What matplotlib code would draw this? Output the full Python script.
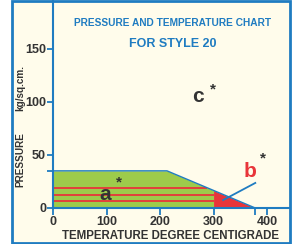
import numpy as np
import matplotlib
matplotlib.use("Agg")
import matplotlib.pyplot as plt
from matplotlib.patches import Rectangle
from matplotlib.ticker import FixedLocator

FONT = ['Liberation Sans', 'DejaVu Sans']

# ---- data ----
title1 = "PRESSURE AND TEMPERATURE CHART"
title2 = "FOR STYLE 20"
xlabel = "TEMPERATURE DEGREE CENTIGRADE"
ylabel1 = "PRESSURE"
ylabel2 = "kg/sq.cm."
xticks = [0, 100, 200, 300, 400]
yticks = [0, 50, 100, 150]
env_temp = [0, 213, 378]          # envelope of the operating region
env_press = [35, 35, 0]
red_limit = 300                    # temperature where red zone begins
red_levels = [6.5, 12.5, 19]       # red lines inside green zone
leader_t = [318, 378]
leader_p = [7.5, 23.6]
labels = ["a", "b", "c"]
label_t = [97, 368, 271]
label_p = [13, 34, 105]
star_t = [123, 393, 298]
star_p = [24, 47, 112]

BLUE = "#1f7cc1"
GREEN = "#9dcb4b"
RED = "#e8353a"
CREAM = "#fffceb"
DARK = "#333333"

fig = plt.figure(figsize=(2.97, 2.44), dpi=100)
fig.patch.set_facecolor("white")
W, H = 297, 244
fig.patches.append(Rectangle((12 / W, 1 / H), (290 - 12) / W, (243 - 1) / H,
                             transform=fig.transFigure, facecolor=CREAM,
                             edgecolor=BLUE, linewidth=2.0, zorder=-5))

ax = fig.add_axes([53 / W, (244 - 208) / H, (289 - 53) / W, (207) / H])
ax.set_zorder(2)
ax.set_facecolor("none")
ax.set_xlim(0, 441)
ax.set_ylim(0, 195)

# green region up to red_limit
tt = np.array(env_temp, dtype=float)
pp = np.array(env_press, dtype=float)
p_at_lim = np.interp(red_limit, tt, pp)
gx = np.concatenate([tt[tt < red_limit], [red_limit]])
gy = np.concatenate([pp[tt < red_limit], [p_at_lim]])
ax.fill_between(gx, 0, gy, color=GREEN, linewidth=0, zorder=1)
rx = np.concatenate([[red_limit], tt[tt > red_limit]])
ry = np.concatenate([[p_at_lim], pp[tt > red_limit]])
ax.fill_between(rx, 0, ry, color=RED, linewidth=0, zorder=1)

for lv in red_levels:
    xe = min(red_limit, np.interp(lv, pp[::-1], tt[::-1]))
    ax.plot([0, xe], [lv, lv], color=RED, lw=1.3, zorder=2, solid_capstyle="butt")

ax.plot(env_temp, env_press, color=BLUE, lw=1.0, zorder=3)
ax.plot(leader_t, leader_p, color=BLUE, lw=1.3, zorder=3)

for s in ["top", "right"]:
    ax.spines[s].set_visible(False)
for s in ["left", "bottom"]:
    ax.spines[s].set_color(BLUE)
    ax.spines[s].set_linewidth(1.5)

ax.set_xticks(xticks)
ax.set_yticks(yticks)
ax.xaxis.set_minor_locator(FixedLocator([env_temp[-1]]))
ax.yaxis.set_minor_locator(FixedLocator([env_press[0]]))
ax.tick_params(axis="x", which="both", length=5, width=1.3, color=BLUE, pad=1)
ax.tick_params(axis="y", which="both", length=4, width=1.3, color=BLUE, pad=1)
ax.set_xticklabels([str(v) for v in xticks], family=FONT, fontweight="bold",
                   fontsize=9, color=DARK)
ax.set_yticklabels([str(v) for v in yticks], family=FONT, fontweight="bold",
                   fontsize=9, color=DARK)

ax.set_xlabel(xlabel, family=FONT, fontweight="bold", fontsize=8.3,
              color=DARK, labelpad=1)

fig.text(20 / W, 1 - 160 / H, ylabel1, rotation=90, ha="center", va="center",
         family=FONT, fontweight="bold", fontsize=7.2, color=DARK)
fig.text(20 / W, 1 - 88 / H, ylabel2, rotation=90, ha="center", va="center",
         family=FONT, fontweight="bold", fontsize=7.2, color=DARK)

fig.text(173 / W, 1 - 23 / H, title1, ha="center", va="center",
         family=FONT, fontweight="bold", fontsize=7.3, color=BLUE)
fig.text(173 / W, 1 - 44 / H, title2, ha="center", va="center",
         family=FONT, fontweight="bold", fontsize=9, color=BLUE)

label_colors = [DARK, RED, DARK]
for lab, t, p, c in zip(labels, label_t, label_p, label_colors):
    ax.text(t, p, lab, ha="center", va="center", family=FONT,
            fontweight="bold", fontsize=15, color=c, zorder=4)
for t, p in zip(star_t, star_p):
    ax.text(t, p, "*", ha="center", va="center", family=FONT,
            fontweight="bold", fontsize=11, color=DARK, zorder=4)

fig.savefig("out.png", dpi=100)
